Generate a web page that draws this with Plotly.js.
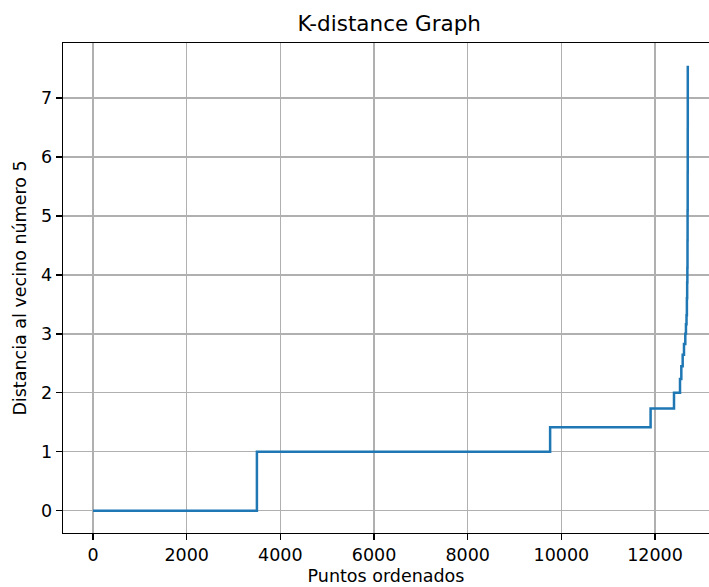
<!DOCTYPE html>
<html>
<head>
<meta charset="utf-8">
<script src="https://cdn.plot.ly/plotly-3.0.1.min.js"></script>
<style>html,body{margin:0;padding:0;background:#fff;overflow:hidden}#chart{width:709px;height:587px}</style>
</head>
<body>
<div id="chart"></div>
<script>
// Sorted k-distance curve, as step breakpoints (point index where a new distance level starts)
const pointIndex = [0, 3500, 9760, 11905, 12405, 12533, 12561, 12590, 12618, 12646, 12660, 12672, 12680, 12686, 12690, 12693, 12695, 12697, 12698, 12699];
const kDistance  = [0, 1, 1.414, 1.732, 2, 2.236, 2.449, 2.646, 2.828, 3, 3.162, 3.317, 3.606, 3.873, 4.123, 4.583, 5.099, 5.745, 6.481, 7.55];
const xTicks = [0, 2000, 4000, 6000, 8000, 10000, 12000];
const yTicks = [0, 1, 2, 3, 4, 5, 6, 7];

const font = {family: 'DejaVu Sans', color: '#000'};
const fs = 17.5;

Plotly.newPlot('chart', [{
  x: pointIndex,
  y: kDistance,
  type: 'scatter',
  mode: 'lines',
  line: {color: '#1f77b4', width: 2.5, shape: 'hv'},
  hoverinfo: 'skip'
}], {
  width: 709, height: 587,
  margin: {l: 63, r: 0, t: 43, b: 54},
  paper_bgcolor: '#fff', plot_bgcolor: '#fff',
  showlegend: false,
  font: Object.assign({size: fs}, font),
  title: {text: 'K-distance Graph', font: Object.assign({size: 21.5}, font),
          xref: 'container', x: 0.549, xanchor: 'center', yref: 'container', y: 0.96, yanchor: 'middle'},
  xaxis: {
    range: [-640, 13152], tickvals: xTicks, ticktext: xTicks.map(String),
    showgrid: true, gridcolor: '#b0b0b0', gridwidth: 1.3,
    zeroline: false, showline: true, linecolor: '#000', linewidth: 1.3, mirror: true,
    ticks: 'outside', ticklen: 6, tickwidth: 1.3, tickcolor: '#000',
    tickfont: Object.assign({size: fs}, font),
    title: {text: 'Puntos ordenados', font: Object.assign({size: fs}, font), standoff: 5}
  },
  yaxis: {
    range: [-0.378, 7.934], tickvals: yTicks, ticktext: yTicks.map(String),
    showgrid: true, gridcolor: '#b0b0b0', gridwidth: 1.3,
    zeroline: false, showline: true, linecolor: '#000', linewidth: 1.3, mirror: true,
    ticks: 'outside', ticklen: 6, tickwidth: 1.3, tickcolor: '#000',
    tickfont: Object.assign({size: fs}, font),
    title: {text: 'Distancia al vecino número 5', font: Object.assign({size: fs}, font), standoff: 10}
  }
}, {staticPlot: true, displayModeBar: false});
</script>
</body>
</html>
